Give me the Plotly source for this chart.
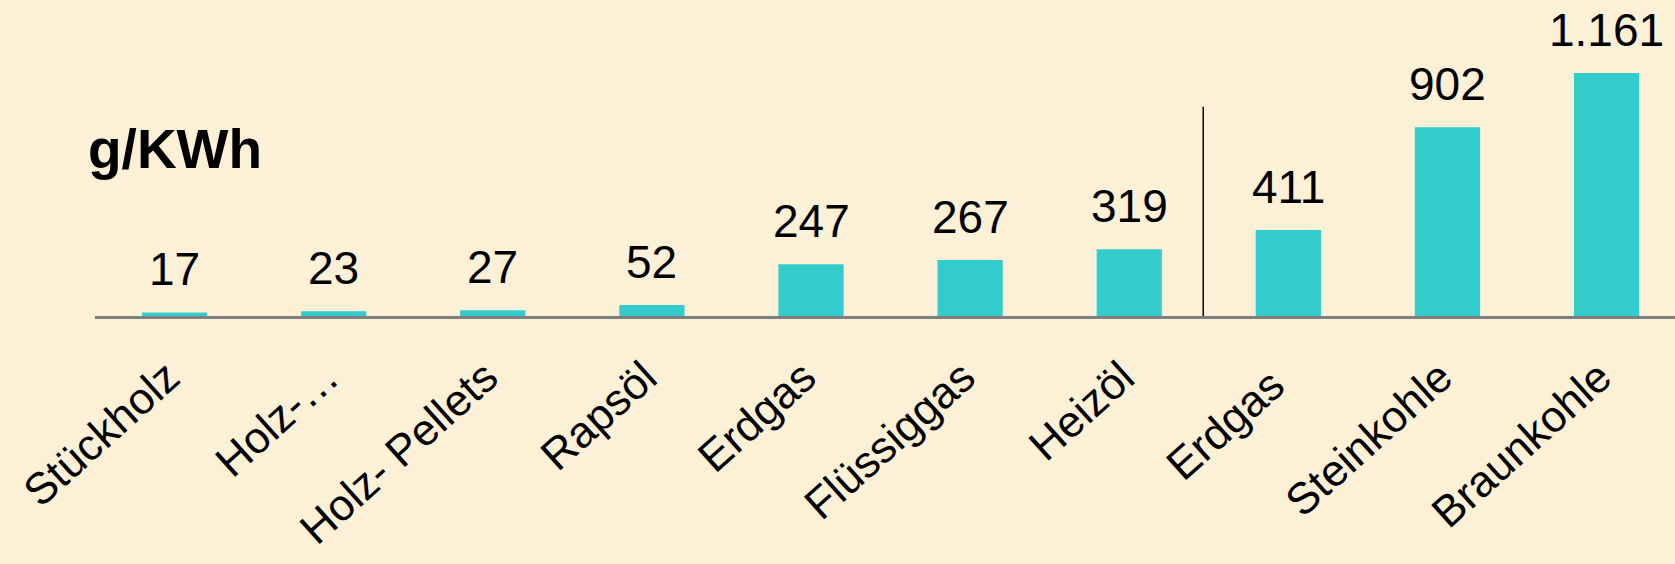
import plotly.graph_objects as go

categories = ["Stückholz", "Holz-…", "Holz- Pellets", "Rapsöl", "Erdgas", "Flüssiggas",
              "Heizöl", "Erdgas ", "Steinkohle", "Braunkohle"]
values = [17, 23, 27, 52, 247, 267, 319, 411, 902, 1161]
unit_label = "g/KWh"
divider_pos = 6.465

BG = "#FCF0D7"
BAR = "#33CCCC"
FONT = "Liberation Sans, Arial, sans-serif"

x_idx = list(range(len(categories)))

fig = go.Figure()
fig.add_trace(go.Bar(
    x=x_idx, y=values, width=0.41,
    marker=dict(color=BAR, line=dict(width=0)),
    hoverinfo="skip",
))

for i, v in zip(x_idx, values):
    fig.add_annotation(x=i, y=v, xref="x", yref="y", text=f"{v:,}".replace(",", "."),
                       showarrow=False, yanchor="bottom", yshift=15,
                       font=dict(family=FONT, size=46, color="black"))

fig.add_annotation(x=-0.0055, y=0.53, xref="paper", yref="paper", text=f"<b>{unit_label}</b>",
                   showarrow=False, xanchor="left", yanchor="middle",
                   font=dict(family=FONT, size=55, color="black"))

fig.add_shape(type="line", xref="x", yref="y", x0=divider_pos, x1=divider_pos, y0=-10, y1=1000,
              line=dict(color="black", width=1.5))

fig.update_layout(
    width=1675, height=564,
    margin=dict(l=95, r=0, t=0, b=248, autoexpand=False),
    paper_bgcolor=BG, plot_bgcolor=BG,
    showlegend=False,
    xaxis=dict(range=[-0.5, 9.43], tickmode="array", tickvals=x_idx, ticktext=categories,
               tickangle=-42, showline=True, linecolor="#808080", linewidth=3,
               showgrid=False, zeroline=False, ticks="", automargin=False,
               tickfont=dict(family=FONT, size=44, color="black"),
               ticklabelstandoff=15, ticklabelshift=-7),
    yaxis=dict(range=[0, 1510], visible=False, showgrid=False, zeroline=False, automargin=False),
)

fig.write_html("out.html",
               config={"displayModeBar": False, "staticPlot": True},
               post_script="document.body.style.margin='0px';"
                           "document.body.style.overflow='hidden';"
                           "document.body.style.background='" + BG + "';")
